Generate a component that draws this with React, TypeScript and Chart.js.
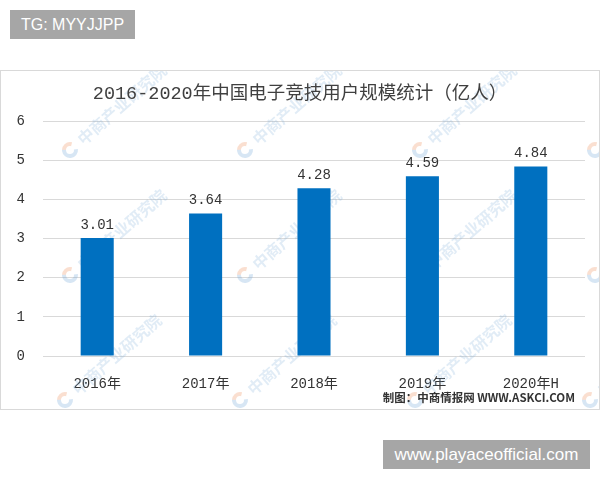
import React, { useEffect, useRef } from "react";
import { Chart, registerables } from "chart.js";

Chart.register(...registerables);

// Chart data
const categories = ["2016年", "2017年", "2018年", "2019年", "2020年H"];
const users = [3.01, 3.64, 4.28, 4.59, 4.84];
const yMin = 0;
const yMax = 6;
const yStep = 1;

const titleText = "2016-2020年中国电子竞技用户规模统计（亿人）";
const sourceText = "制图：中商情报网 WWW.ASKCI.COM";
const watermarkText = "中商产业研究院";

const MONO_CJK = "'Liberation Mono', 'Noto Sans CJK SC', monospace";
const BAR_BLUE = "#0070C0";

// Anchor points of the repeated watermark, in canvas coordinates
const watermarkX = [70, 245, 420, 595];
const watermarkY = [80, 205, 330];

const decorPlugin = {
  id: "decor",
  beforeDatasetsDraw(chart: any) {
    const ctx = chart.ctx as CanvasRenderingContext2D;
    ctx.save();
    for (let r = 0; r < watermarkY.length; r++) {
      for (let c = 0; c < watermarkX.length; c++) {
        const x = watermarkX[c] - (r === 2 ? 5 : 0);
        const y = watermarkY[r];
        ctx.save();
        ctx.translate(x, y);
        ctx.rotate(-0.72);
        ctx.lineWidth = 4;
        ctx.strokeStyle = "rgba(110,165,215,0.28)";
        ctx.beginPath();
        ctx.arc(0, 0, 6, 0.6, 3.9);
        ctx.stroke();
        ctx.strokeStyle = "rgba(240,150,100,0.3)";
        ctx.beginPath();
        ctx.arc(0, 0, 6, 3.9, 5.7);
        ctx.stroke();
        ctx.font = "bold 16px 'Noto Sans CJK SC'";
        ctx.fillStyle = "rgba(120,170,215,0.22)";
        ctx.textBaseline = "middle";
        ctx.textAlign = "left";
        ctx.fillText(watermarkText, 13, 0);
        ctx.restore();
      }
    }
    ctx.restore();
  },
  afterDraw(chart: any) {
    const ctx = chart.ctx as CanvasRenderingContext2D;
    ctx.save();
    // frame
    ctx.strokeStyle = "#d9d9d9";
    ctx.lineWidth = 1;
    ctx.strokeRect(0.5, 0.5, chart.width - 1, chart.height - 1);
    // title
    ctx.fillStyle = "#404040";
    ctx.font = `18.5px ${MONO_CJK}`;
    ctx.textAlign = "center";
    ctx.textBaseline = "middle";
    ctx.fillText(titleText, 300, 24);
    // value labels
    const meta = chart.getDatasetMeta(0);
    ctx.font = `14px ${MONO_CJK}`;
    ctx.fillStyle = "#333333";
    meta.data.forEach((bar: any, i: number) => {
      ctx.fillText(users[i].toFixed(2), bar.x, bar.y - 13);
    });
    // source note
    ctx.font = "bold 11.5px 'Noto Sans CJK SC', 'Liberation Mono', sans-serif";
    ctx.textAlign = "right";
    ctx.fillStyle = "#333333";
    ctx.fillText(sourceText, 575, 328);
    ctx.restore();
  },
};

function ChartCanvas() {
  const ref = useRef<HTMLCanvasElement | null>(null);
  useEffect(() => {
    if (!ref.current) return;
    const chart = new Chart(ref.current, {
      type: "bar",
      data: {
        labels: categories,
        datasets: [
          {
            data: users,
            backgroundColor: BAR_BLUE,
            barPercentage: 0.305,
            categoryPercentage: 1,
          },
        ],
      },
      options: {
        responsive: false,
        animation: false,
        layout: { padding: { top: 51, right: 15, bottom: 0, left: 0 } },
        plugins: {
          legend: { display: false },
          title: { display: false },
          tooltip: { enabled: false },
        },
        scales: {
          x: {
            grid: { display: false },
            border: { display: false },
            ticks: {
              color: "#333333",
              font: { family: MONO_CJK, size: 14 },
              padding: 12,
              maxRotation: 0,
            },
            afterFit: (scale: any) => {
              scale.height = 54;
            },
          },
          y: {
            min: yMin,
            max: yMax,
            grid: { color: "#d9d9d9", drawTicks: false },
            border: { display: false },
            ticks: {
              stepSize: yStep,
              color: "#333333",
              font: { family: MONO_CJK, size: 14 },
              padding: 18,
            },
            afterFit: (scale: any) => {
              scale.width = 43;
            },
          },
        },
      },
      plugins: [decorPlugin],
    });
    return () => chart.destroy();
  }, []);
  return (
    <canvas
      ref={ref}
      width={600}
      height={340}
      style={{ position: "absolute", left: 0, top: 70, width: 600, height: 340 }}
    />
  );
}

const tagStyle: React.CSSProperties = {
  position: "absolute",
  background: "#a6a6a6",
  color: "#ffffff",
  fontFamily: "'Liberation Sans', Arial, sans-serif",
  display: "flex",
  alignItems: "center",
  justifyContent: "center",
  whiteSpace: "nowrap",
};

export default function App() {
  return (
    <div
      style={{
        position: "absolute",
        left: 0,
        top: 0,
        width: 600,
        height: 480,
        background: "#ffffff",
        overflow: "hidden",
      }}
    >
      <div style={{ ...tagStyle, left: 10, top: 10, width: 125, height: 29, fontSize: 16 }}>
        TG: MYYJJPP
      </div>
      <ChartCanvas />
      <div style={{ ...tagStyle, left: 383, top: 440, width: 207, height: 29, fontSize: 17 }}>
        www.playaceofficial.com
      </div>
    </div>
  );
}
